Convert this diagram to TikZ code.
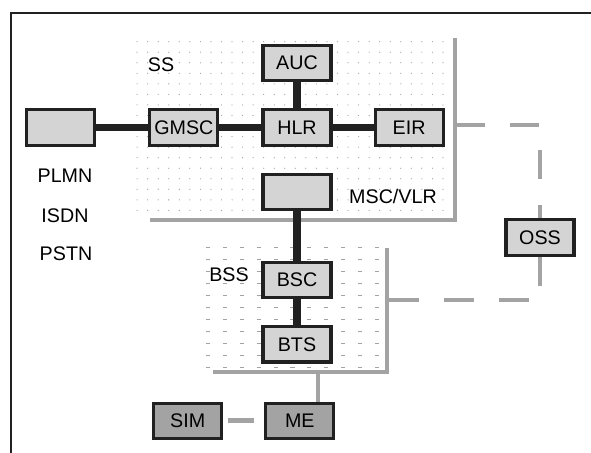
\documentclass[tikz,border=0pt]{standalone}
\usepackage{fontspec}
\setmainfont{Liberation Sans}
\usepackage{xcolor}
\usetikzlibrary{positioning,patterns.meta,calc}
\definecolor{ink}{gray}{0.13}
\definecolor{boxgray}{gray}{0.83}
\definecolor{simgray}{gray}{0.64}
\definecolor{areagray}{gray}{0.64}
\tikzset{
box/.style={
draw=ink,
line width=2.2pt,
fill=boxgray,
minimum width=1.7cm,
minimum height=0.88cm,
inner sep=1pt,
font=\fontsize{14}{16}\selectfont
},
darkbox/.style={
box,
fill=simgray
},
tag/.style={
inner sep=0pt,
font=\fontsize{14}{16}\selectfont
},
wire/.style={
line width=5pt,
draw=ink
},
arealine/.style={
line width=3.5pt,
draw=areagray
},
link/.style={
arealine,
dash pattern=on 21pt off 18pt
}
}

\begin{document}
\begin{tikzpicture}[x=0.025cm,y=-0.025cm]
\useasboundingbox (0,0) rectangle (591,453);
% frame
\draw[line width=2pt,ink] (11,453) -- (11,13) -- (591,13);

% SS and BSS areas
\fill[pattern={Dots[distance=7.5pt,radius=0.45pt]},pattern color=areagray] (130,33) rectangle (455,218);
\foreach \y in {247,259,...,367}
\draw[areagray,thin,dash pattern=on 3pt off 9pt] (206,\y) -- (385,\y);
\draw[arealine] (150,220) -- (455,220) -- (455,38);
\draw[arealine] (213,372) -- (387,372) -- (387,248);

\node[box](hlr) at (297,127.5){HLR};
\node[box,above=0.65cm of hlr](auc){AUC};
\node[box,left=1.05cm of hlr](gmsc){GMSC};
\node[box,left=1.3cm of gmsc](net){};
\node[box,right=1.025cm of hlr](eir){EIR};
\node[box,below=0.65cm of hlr](msc){};
\node[box,below=1.25cm of msc](bsc){BSC};
\node[box,below=0.65cm of bsc](bts){BTS};
\node[darkbox,below=0.95cm of bts,xshift=2pt](me){ME};
\node[darkbox,left=1.025cm of me](sim){SIM};
\node[box](oss) at (540,237.5){OSS};

\node[tag](ss) at (161,65){SS};
\node[tag](plmn) at (65,176){PLMN};
\node[tag](isdn) at (65,216){ISDN};
\node[tag](pstn) at (66,254){PSTN};
\node[tag](bss) at (229,275){BSS};
\node[tag](msclabel) at (393,196){MSC/VLR};

\foreach \x/\y in {net/gmsc,gmsc/hlr,auc/hlr,hlr/eir,msc/bsc,bsc/bts}
\draw[wire](\x)--(\y);

% OSS links
\coordinate (ssedge) at (455,125);
\coordinate (bssedge) at (387,300);
\coordinate (bssfoot) at (318,372);
\draw[link](ssedge) -| (oss.north);
\draw[link](oss.south) |- (bssedge);
\draw[arealine](bssfoot) -- (bssfoot |- me.north);
\draw[arealine,shorten <=3.5pt,shorten >=7pt](sim) -- (me);
\end{tikzpicture}
\end{document}
